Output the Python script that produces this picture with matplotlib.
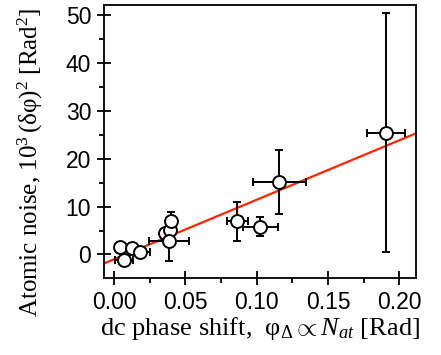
import matplotlib
matplotlib.use("Agg")
import matplotlib.pyplot as plt
from matplotlib.ticker import MultipleLocator, FormatStrFormatter
import numpy as np

# data
phase = [0.0042, 0.0072, 0.0129, 0.0182, 0.0360, 0.0393, 0.0397, 0.0385, 0.0865, 0.1026, 0.1159, 0.1906]
phase_err = [0.0, 0.0063, 0.0, 0.0070, 0.0, 0.0, 0.0030, 0.0140, 0.0076, 0.0123, 0.0185, 0.0135]
noise = [1.6, -1.2, 1.25, 0.55, 4.4, 5.2, 6.9, 2.8, 6.9, 5.75, 15.1, 25.4]
noise_err = [0.0, 1.0, 0.0, 0.0, 0.0, 0.0, 2.0, 4.2, 4.0, 2.0, 6.6, 24.9]
fit_slope = 124.0
fit_intercept = -1.0

plt.rcParams["mathtext.fontset"] = "custom"
plt.rcParams["mathtext.rm"] = "Liberation Serif"
plt.rcParams["mathtext.it"] = "Liberation Serif:italic"

fig = plt.figure(figsize=(4.41, 3.55), dpi=100)
ax = fig.add_axes([0.2358, 0.2169, 0.7075, 0.769])

xlim = (-0.007, 0.2117)
ax.set_xlim(xlim)
ax.set_ylim(-4.9, 52)

xs = np.array(xlim)
ax.plot(xs, fit_intercept + fit_slope * xs, color="#ff2200", linewidth=1.6, zorder=2)

ax.errorbar(phase, noise, xerr=phase_err, yerr=noise_err, fmt="o", color="black",
            mfc="white", mec="black", mew=1.4, markersize=9.3, elinewidth=1.4,
            capsize=2.6, capthick=1.4, zorder=3)

ax.xaxis.set_major_locator(MultipleLocator(0.05))
ax.xaxis.set_minor_locator(MultipleLocator(0.025))
ax.xaxis.set_major_formatter(FormatStrFormatter("%.2f"))
ax.yaxis.set_major_locator(MultipleLocator(10))
ax.yaxis.set_minor_locator(MultipleLocator(5))
ax.tick_params(which="major", direction="inout", length=9.4, width=1.3,
               labelsize=16.5, pad=4.5)
ax.tick_params(which="minor", direction="out", length=3.5, width=1.3)
ax.tick_params(top=False, right=False)
for lab in ax.get_xticklabels() + ax.get_yticklabels():
    lab.set_family("Liberation Sans")
for sp in ax.spines.values():
    sp.set_linewidth(1.3)

ax.set_xlabel(r"dc phase shift,  $\mathrm{φ}_{\Delta} \propto N_{at}$ [Rad]",
              family="Liberation Serif", fontsize=19)
ax.xaxis.set_label_coords(0.5, -0.135)
ax.set_ylabel(r"Atomic noise, $10^3\,\mathrm{(δφ)}^2$ [Rad$^2$]",
              family="Liberation Serif", fontsize=18)
ax.yaxis.set_label_coords(-0.19, 0.425)

fig.savefig("out.png", dpi=100)
